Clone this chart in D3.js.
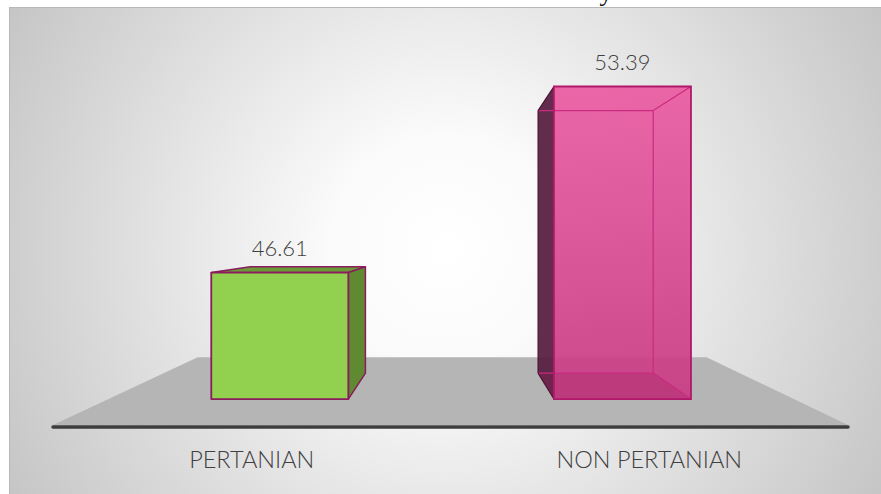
<!DOCTYPE html>
<html>
<head>
<meta charset="utf-8">
<script src="https://cdn.jsdelivr.net/npm/d3@7"></script>
<style>
  html, body { margin: 0; padding: 0; background: #ffffff; }
  svg { display: block; }
</style>
</head>
<body>
<svg id="chart" width="881" height="494"></svg>
<script>
// ---- data ----
const categories = ["PERTANIAN", "NON PERTANIAN"];
const values = [46.61, 53.39];
const valueLabels = ["46.61", "53.39"];
const axisDomain = [42, 54];

// ---- layout ----
const W = 881, H = 494;
const svg = d3.select("#chart");
const defs = svg.append("defs");

// perspective: vanishing point + depth scales (front plane = 1)
const VP = {x: 455, y: 237};
const sFloorBack = 0.64, sBarFront = 0.862, sBarBack = 0.724;
const P = (x, y, s) => [VP.x + s * (x - VP.x), VP.y + s * (y - VP.y)];

const x = d3.scaleBand().domain(categories).range([53, 848])
  .paddingInner(0.6).paddingOuter(0.3);
const y = d3.scaleLinear().domain(axisDomain).range([425, 43]);

// background panel
const bg = defs.append("radialGradient").attr("id", "bg")
  .attr("gradientUnits", "userSpaceOnUse")
  .attr("cx", 445).attr("cy", 250).attr("r", 560);
bg.append("stop").attr("offset", 0).attr("stop-color", "#ffffff");
bg.append("stop").attr("offset", 0.2).attr("stop-color", "#fbfbfb");
bg.append("stop").attr("offset", 1).attr("stop-color", "#bdbdbd");
svg.append("rect").attr("x", 9.5).attr("y", 7.5).attr("width", W - 9).attr("height", H - 7)
  .attr("fill", "url(#bg)").attr("stroke", "#b8b8b8").attr("stroke-width", 1);

// cut-off title descender (the title itself lies above the visible area)
svg.append("text").attr("x", 606).attr("y", 0.5)
  .attr("text-anchor", "middle").attr("font-family", "Liberation Serif")
  .attr("font-size", 26).attr("fill", "#000").text("y");

// floor
const [x0, x1] = x.range();
const yF = y(axisDomain[0]);
const floorPts = [P(x0, yF, 1), P(x1, yF, 1), P(x1, yF, sFloorBack), P(x0, yF, sFloorBack)];
svg.append("polygon").attr("points", floorPts.map(p => p.join(",")).join(" "))
  .attr("fill", "#b5b5b5");
svg.append("line").attr("x1", x0).attr("x2", x1).attr("y1", yF + 2).attr("y2", yF + 2)
  .attr("stroke", "#3d3d3d").attr("stroke-width", 3.5).attr("stroke-linecap", "round");

// gradients for pink bar
const pg = defs.append("linearGradient").attr("id", "pinkFront")
  .attr("x1", 0).attr("y1", 0).attr("x2", 0).attr("y2", 1);
pg.append("stop").attr("offset", 0).attr("stop-color", "#ea5ca2");
pg.append("stop").attr("offset", 1).attr("stop-color", "#c83c84");

const poly = (pts) => pts.map(p => p.join(",")).join(" ");

categories.forEach((c, i) => {
  const bx0 = x(c), bx1 = x(c) + x.bandwidth();
  const yt = y(values[i]), yb = yF;
  const fTL = P(bx0, yt, sBarFront), fTR = P(bx1, yt, sBarFront);
  const fBL = P(bx0, yb, sBarFront), fBR = P(bx1, yb, sBarFront);
  const bTL = P(bx0, yt, sBarBack), bTR = P(bx1, yt, sBarBack);
  const bBL = P(bx0, yb, sBarBack), bBR = P(bx1, yb, sBarBack);
  const g = svg.append("g");
  if (i === 0) {
    const edge = "#8a1b5c";
    g.append("polygon").attr("points", poly([fTL, fTR, bTR, bTL]))
      .attr("fill", "#6a9a36").attr("stroke", edge).attr("stroke-width", 1.5).attr("stroke-linejoin", "round");
    g.append("polygon").attr("points", poly([fTR, bTR, bBR, fBR]))
      .attr("fill", "#5f8a31").attr("stroke", edge).attr("stroke-width", 1.5).attr("stroke-linejoin", "round");
    g.append("polygon").attr("points", poly([fTL, fTR, fBR, fBL]))
      .attr("fill", "#92d050").attr("stroke", edge).attr("stroke-width", 1.8).attr("stroke-linejoin", "round");
  } else {
    const edge = "#b0186a";
    g.append("polygon").attr("points", poly([fTL, fTR, fBR, fBL]))
      .attr("fill", "url(#pinkFront)").attr("fill-opacity", 0.93);
    g.append("polygon").attr("points", poly([bTL, fTL, fBL, bBL]))
      .attr("fill", "#5a2243").attr("fill-opacity", 0.95);
    g.append("polygon").attr("points", poly([fBL, fBR, bBR, bBL]))
      .attr("fill", "#9a1a5c").attr("fill-opacity", 0.25);
    const inner = "#cc2a80";
    [[bTL, bTR], [bTR, bBR], [bBL, bBR], [fTR, bTR], [fBR, bBR]].forEach(([a, b]) => {
      g.append("line").attr("x1", a[0]).attr("y1", a[1]).attr("x2", b[0]).attr("y2", b[1])
        .attr("stroke", inner).attr("stroke-width", 1.2);
    });
    [[bTL, bBL], [fTL, bTL], [fBL, bBL]].forEach(([a, b]) => {
      g.append("line").attr("x1", a[0]).attr("y1", a[1]).attr("x2", b[0]).attr("y2", b[1])
        .attr("stroke", "#4a1535").attr("stroke-width", 1.2);
    });
    g.append("polygon").attr("points", poly([fTL, fTR, fBR, fBL]))
      .attr("fill", "none").attr("stroke", edge).attr("stroke-width", 1.8);
  }
  svg.append("text")
    .attr("x", (fTL[0] + fTR[0]) / 2).attr("y", fTL[1] - 17)
    .attr("text-anchor", "middle")
    .attr("font-family", "Lato, 'Open Sans', sans-serif").attr("font-weight", 300)
    .attr("font-size", 22).attr("fill", "#404040")
    .text(valueLabels[i]);
});

// category axis labels
svg.append("g").selectAll("text").data(categories).join("text")
  .attr("x", d => x(d) + x.bandwidth() / 2).attr("y", 468)
  .attr("text-anchor", "middle")
  .attr("font-family", "Lato, 'Open Sans', sans-serif").attr("font-weight", 300)
  .attr("font-size", 23.5).attr("fill", "#404040")
  .text(d => d);
</script>
</body>
</html>
